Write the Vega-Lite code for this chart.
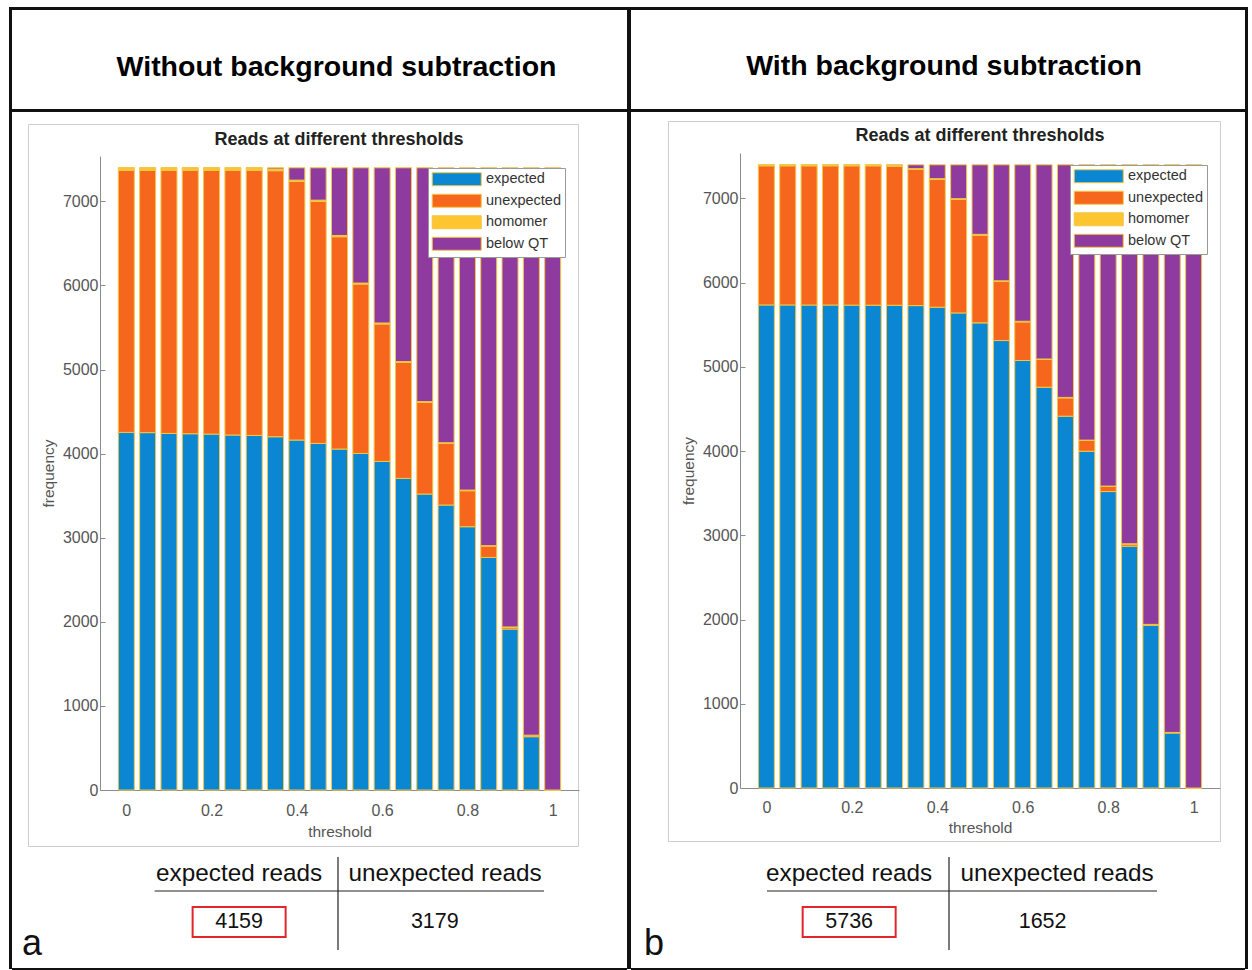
{
  "$schema": "https://vega.github.io/schema/vega-lite/v6.json",
  "background": "white",
  "padding": {"left": 9, "top": 7, "right": 0, "bottom": 0},
  "config": {
    "view": {"stroke": null},
    "font": "Liberation Sans",
    "concat": {"spacing": 0}
  },
  "datasets": {
    "readsA": [
      {"threshold": 0.00, "expected": 4253, "unexpected": 3117, "homomer": 30, "below QT": 0},
      {"threshold": 0.05, "expected": 4250, "unexpected": 3120, "homomer": 30, "below QT": 0},
      {"threshold": 0.10, "expected": 4241, "unexpected": 3129, "homomer": 30, "below QT": 0},
      {"threshold": 0.15, "expected": 4237, "unexpected": 3133, "homomer": 30, "below QT": 0},
      {"threshold": 0.20, "expected": 4233, "unexpected": 3137, "homomer": 30, "below QT": 0},
      {"threshold": 0.25, "expected": 4222, "unexpected": 3148, "homomer": 30, "below QT": 0},
      {"threshold": 0.30, "expected": 4217, "unexpected": 3153, "homomer": 30, "below QT": 0},
      {"threshold": 0.35, "expected": 4201, "unexpected": 3164, "homomer": 20, "below QT": 15},
      {"threshold": 0.40, "expected": 4162, "unexpected": 3076, "homomer": 15, "below QT": 147},
      {"threshold": 0.45, "expected": 4122, "unexpected": 2878, "homomer": 15, "below QT": 385},
      {"threshold": 0.50, "expected": 4055, "unexpected": 2525, "homomer": 15, "below QT": 805},
      {"threshold": 0.55, "expected": 4003, "unexpected": 2014, "homomer": 12, "below QT": 1371},
      {"threshold": 0.60, "expected": 3908, "unexpected": 1634, "homomer": 12, "below QT": 1846},
      {"threshold": 0.65, "expected": 3706, "unexpected": 1379, "homomer": 10, "below QT": 2305},
      {"threshold": 0.70, "expected": 3520, "unexpected": 1089, "homomer": 10, "below QT": 2781},
      {"threshold": 0.75, "expected": 3389, "unexpected": 733, "homomer": 8, "below QT": 3270},
      {"threshold": 0.80, "expected": 3131, "unexpected": 428, "homomer": 8, "below QT": 3833},
      {"threshold": 0.85, "expected": 2766, "unexpected": 135, "homomer": 5, "below QT": 4494},
      {"threshold": 0.90, "expected": 1914, "unexpected": 20, "homomer": 5, "below QT": 5461},
      {"threshold": 0.95, "expected": 634, "unexpected": 15, "homomer": 3, "below QT": 6748},
      {"threshold": 1.00, "expected": 0, "unexpected": 0, "homomer": 0, "below QT": 7400}
    ],
    "readsB": [
      {"threshold": 0.00, "expected": 5736, "unexpected": 1652, "homomer": 12, "below QT": 0},
      {"threshold": 0.05, "expected": 5736, "unexpected": 1652, "homomer": 12, "below QT": 0},
      {"threshold": 0.10, "expected": 5735, "unexpected": 1653, "homomer": 12, "below QT": 0},
      {"threshold": 0.15, "expected": 5735, "unexpected": 1653, "homomer": 12, "below QT": 0},
      {"threshold": 0.20, "expected": 5734, "unexpected": 1654, "homomer": 12, "below QT": 0},
      {"threshold": 0.25, "expected": 5733, "unexpected": 1655, "homomer": 12, "below QT": 0},
      {"threshold": 0.30, "expected": 5732, "unexpected": 1650, "homomer": 12, "below QT": 6},
      {"threshold": 0.35, "expected": 5728, "unexpected": 1616, "homomer": 10, "below QT": 46},
      {"threshold": 0.40, "expected": 5709, "unexpected": 1516, "homomer": 10, "below QT": 165},
      {"threshold": 0.45, "expected": 5641, "unexpected": 1347, "homomer": 10, "below QT": 402},
      {"threshold": 0.50, "expected": 5523, "unexpected": 1041, "homomer": 10, "below QT": 826},
      {"threshold": 0.55, "expected": 5313, "unexpected": 701, "homomer": 8, "below QT": 1378},
      {"threshold": 0.60, "expected": 5076, "unexpected": 458, "homomer": 8, "below QT": 1858},
      {"threshold": 0.65, "expected": 4759, "unexpected": 329, "homomer": 6, "below QT": 2306},
      {"threshold": 0.70, "expected": 4415, "unexpected": 217, "homomer": 6, "below QT": 2762},
      {"threshold": 0.75, "expected": 3999, "unexpected": 127, "homomer": 5, "below QT": 3269},
      {"threshold": 0.80, "expected": 3520, "unexpected": 60, "homomer": 5, "below QT": 3815},
      {"threshold": 0.85, "expected": 2871, "unexpected": 25, "homomer": 4, "below QT": 4500},
      {"threshold": 0.90, "expected": 1932, "unexpected": 8, "homomer": 3, "below QT": 5457},
      {"threshold": 0.95, "expected": 653, "unexpected": 5, "homomer": 2, "below QT": 6740},
      {"threshold": 1.00, "expected": 0, "unexpected": 0, "homomer": 0, "below QT": 7400}
    ]
  },
  "resolve": {"scale": {"color": "independent"}, "legend": {"color": "independent"}},
  "spacing": 0,
  "hconcat": [
    {"width": 3, "height": 962, "view": {"fill": "#111", "stroke": null}, "data": {"values": []}, "mark": "point", "encoding": {}},
    {
      "spacing": 0,
      "resolve": {"scale": {"color": "independent"}, "legend": {"color": "independent"}},
      "vconcat": [
        {"width": 615, "height": 3, "view": {"fill": "#111", "stroke": null}, "data": {"values": []}, "mark": "point", "encoding": {}},
        {
          "width": 615, "height": 99,
          "data": {"values": [{"heading": "Without background subtraction"}]},
          "mark": {"type": "text", "fontSize": 28.5, "fontWeight": "bold", "color": "#000", "baseline": "middle", "dx": 17, "dy": 7},
          "encoding": {"text": {"field": "heading"}}
        },
        {"width": 615, "height": 3, "view": {"fill": "#111", "stroke": null}, "data": {"values": []}, "mark": "point", "encoding": {}},
        {"width": 615, "height": 11, "data": {"values": []}, "mark": "point", "encoding": {}},
        {
          "spacing": 0,
          "resolve": {"scale": {"color": "independent"}, "legend": {"color": "independent"}},
          "hconcat": [
            {"width": 15, "height": 722, "data": {"values": []}, "mark": "point", "encoding": {}},
            {
              "width": 550, "height": 722,
              "view": {"stroke": "#cdcdcd", "strokeWidth": 1, "fill": "white"},
              "data": {"name": "readsA"},
              "transform": [
                {"fold": ["expected", "unexpected", "homomer", "below QT"], "as": ["category", "count"]},
                {"window": [{"op": "row_number", "as": "layer"}], "groupby": ["threshold"]}
              ],
              "title": {"text": "Reads at different thresholds", "fontSize": 18, "fontWeight": "bold", "color": "#222", "anchor": "middle", "frame": "group", "orient": "top", "offset": -39, "dx": 36, "baseline": "alphabetic"},
              "mark": {"type": "bar", "size": 16, "stroke": "#f2c744", "strokeWidth": 1},
              "encoding": {
                "x": {
                  "field": "threshold", "type": "quantitative",
                  "scale": {"domain": [-0.05, 1.05], "range": [72, 551], "nice": false, "zero": false},
                  "axis": {"title": "threshold", "values": [0, 0.2, 0.4, 0.6, 0.8, 1], "format": "~g", "grid": false, "offset": -56, "domainColor": "#8c8c8c", "tickColor": "#8c8c8c", "tickSize": -5, "labelFontSize": 16, "labelColor": "#555", "labelPadding": 17, "titleFontSize": 15.5, "titleFontWeight": "normal", "titleColor": "#555", "titlePadding": 6}
                },
                "y": {
                  "field": "count", "type": "quantitative", "stack": "zero",
                  "scale": {"domain": [0, 7540], "range": [666, 32], "nice": false},
                  "axis": {"title": "frequency", "values": [0, 1000, 2000, 3000, 4000, 5000, 6000, 7000], "format": "d", "grid": false, "offset": -72, "domainColor": "#8c8c8c", "tickColor": "#8c8c8c", "tickSize": -5, "labelFontSize": 16, "labelColor": "#555", "labelPadding": 7, "titleFontSize": 15.5, "titleFontWeight": "normal", "titleColor": "#555", "titlePadding": 6}
                },
                "color": {
                  "field": "category", "type": "nominal",
                  "scale": {"domain": ["expected", "unexpected", "homomer", "below QT"], "range": ["#0a86d3", "#f6661c", "#fdc52f", "#8e3a9f"]},
                  "legend": {"orient": "none", "legendX": 400, "legendY": 44, "title": null, "symbolType": "M-3.77,-1H3.77V1H-3.77Z", "symbolSize": 169, "symbolOffset": 17.5, "labelOffset": 22, "symbolStrokeColor": "#f2c744", "symbolStrokeWidth": 1, "labelFontSize": 14.5, "labelColor": "#333", "strokeColor": "#9a9a9a", "fillColor": "white", "padding": 4, "rowPadding": 3.5}
                },
                "order": {"field": "layer", "type": "quantitative", "sort": "ascending"}
              }
            }
          ]
        },
        {
          "width": 615, "height": 121,
          "data": {"values": [{"column": "expected reads", "reads": 4159}, {"column": "unexpected reads", "reads": 3179}]},
          "title": {"text": "a", "orient": "bottom", "anchor": "start", "frame": "group", "offset": -13, "dx": 10, "fontSize": 36, "fontWeight": "normal", "color": "#111", "baseline": "alphabetic"},
          "encoding": {
            "x": {"field": "column", "type": "nominal", "bandPosition": 0.52, "scale": {"type": "band", "domain": ["expected reads", "unexpected reads"], "range": [120, 532], "paddingInner": 0, "paddingOuter": 0}, "axis": null}
          },
          "layer": [
            {
              "mark": {"type": "text", "fontSize": 24.3, "color": "#111", "baseline": "middle"},
              "encoding": {
                "y": {"datum": "header", "type": "nominal", "bandPosition": 0.712, "scale": {"type": "band", "domain": ["header", "value"], "range": [-15, 103], "paddingInner": 0, "paddingOuter": 0}, "axis": null},
                "text": {"field": "column"}
              }
            },
            {
              "transform": [{"filter": "datum.column === 'expected reads'"}],
              "mark": {"type": "text", "fontSize": 21.5, "color": "#111", "baseline": "middle"},
              "encoding": {
                "y": {"datum": "value", "type": "nominal", "bandPosition": 0.525},
                "text": {"field": "reads", "type": "quantitative", "format": "d"}
              }
            },
            {
              "transform": [{"filter": "datum.column === 'unexpected reads'"}],
              "mark": {"type": "text", "fontSize": 21.5, "color": "#111", "baseline": "middle"},
              "encoding": {
                "x": {"field": "column", "type": "nominal", "bandPosition": 0.47},
                "y": {"datum": "value", "type": "nominal", "bandPosition": 0.525},
                "text": {"field": "reads", "type": "quantitative", "format": "d"}
              }
            },
            {
              "transform": [{"filter": "datum.column === 'expected reads'"}],
              "mark": {"type": "point", "shape": "M-1.55,-0.5H1.55V0.5H-1.55Z", "size": 3600, "filled": false, "stroke": "#e3262b", "strokeWidth": 2, "opacity": 1},
              "encoding": {
                "y": {"datum": "value", "type": "nominal", "bandPosition": 0.525}
              }
            },
            {
              "transform": [{"filter": "datum.column === 'expected reads'"}],
              "mark": {"type": "rule", "color": "#222", "strokeWidth": 1.2},
              "encoding": {
                "x": {"datum": "expected reads", "type": "nominal", "bandPosition": 0.11},
                "x2": {"datum": "unexpected reads", "bandPosition": 1},
                "y": {"datum": "value", "type": "nominal", "bandPosition": 0}
              }
            },
            {
              "transform": [{"filter": "datum.column === 'expected reads'"}],
              "mark": {"type": "rule", "color": "#222", "strokeWidth": 1.2},
              "encoding": {
                "x": {"datum": "unexpected reads", "type": "nominal", "bandPosition": 0},
                "y": {"datum": "header", "type": "nominal", "bandPosition": 0.424},
                "y2": {"datum": "value", "bandPosition": 1}
              }
            }
          ]
        },
        {"width": 615, "height": 3, "view": {"fill": "#111", "stroke": null}, "data": {"values": []}, "mark": "point", "encoding": {}}
      ]
    },
    {"width": 4, "height": 962, "view": {"fill": "#111", "stroke": null}, "data": {"values": []}, "mark": "point", "encoding": {}},
    {
      "spacing": 0,
      "resolve": {"scale": {"color": "independent"}, "legend": {"color": "independent"}},
      "vconcat": [
        {"width": 614, "height": 3, "view": {"fill": "#111", "stroke": null}, "data": {"values": []}, "mark": "point", "encoding": {}},
        {
          "width": 614, "height": 99,
          "data": {"values": [{"heading": "With background subtraction"}]},
          "mark": {"type": "text", "fontSize": 28.5, "fontWeight": "bold", "color": "#000", "baseline": "middle", "dx": 6, "dy": 6},
          "encoding": {"text": {"field": "heading"}}
        },
        {"width": 614, "height": 3, "view": {"fill": "#111", "stroke": null}, "data": {"values": []}, "mark": "point", "encoding": {}},
        {"width": 614, "height": 8, "data": {"values": []}, "mark": "point", "encoding": {}},
        {
          "spacing": 0,
          "resolve": {"scale": {"color": "independent"}, "legend": {"color": "independent"}},
          "hconcat": [
            {"width": 36, "height": 720, "data": {"values": []}, "mark": "point", "encoding": {}},
            {
              "width": 552, "height": 720,
              "view": {"stroke": "#cdcdcd", "strokeWidth": 1, "fill": "white"},
              "data": {"name": "readsB"},
              "transform": [
                {"fold": ["expected", "unexpected", "homomer", "below QT"], "as": ["category", "count"]},
                {"window": [{"op": "row_number", "as": "layer"}], "groupby": ["threshold"]}
              ],
              "title": {"text": "Reads at different thresholds", "fontSize": 18, "fontWeight": "bold", "color": "#222", "anchor": "middle", "frame": "group", "orient": "top", "offset": -38, "dx": 36, "baseline": "alphabetic"},
              "mark": {"type": "bar", "size": 16, "stroke": "#f2c744", "strokeWidth": 1},
              "encoding": {
                "x": {
                  "field": "threshold", "type": "quantitative",
                  "scale": {"domain": [-0.05, 1.05], "range": [72, 552], "nice": false, "zero": false},
                  "axis": {"title": "threshold", "values": [0, 0.2, 0.4, 0.6, 0.8, 1], "format": "~g", "grid": false, "offset": -53, "domainColor": "#8c8c8c", "tickColor": "#8c8c8c", "tickSize": -5, "labelFontSize": 16, "labelColor": "#555", "labelPadding": 16, "titleFontSize": 15.5, "titleFontWeight": "normal", "titleColor": "#555", "titlePadding": 5}
                },
                "y": {
                  "field": "count", "type": "quantitative", "stack": "zero",
                  "scale": {"domain": [0, 7540], "range": [667, 32], "nice": false},
                  "axis": {"title": "frequency", "values": [0, 1000, 2000, 3000, 4000, 5000, 6000, 7000], "format": "d", "grid": false, "offset": -72, "domainColor": "#8c8c8c", "tickColor": "#8c8c8c", "tickSize": -5, "labelFontSize": 16, "labelColor": "#555", "labelPadding": 7, "titleFontSize": 15.5, "titleFontWeight": "normal", "titleColor": "#555", "titlePadding": 6}
                },
                "color": {
                  "field": "category", "type": "nominal",
                  "scale": {"domain": ["expected", "unexpected", "homomer", "below QT"], "range": ["#0a86d3", "#f6661c", "#fdc52f", "#8e3a9f"]},
                  "legend": {"orient": "none", "legendX": 402, "legendY": 44, "title": null, "symbolType": "M-3.77,-1H3.77V1H-3.77Z", "symbolSize": 169, "symbolOffset": 17.5, "labelOffset": 22, "symbolStrokeColor": "#f2c744", "symbolStrokeWidth": 1, "labelFontSize": 14.5, "labelColor": "#333", "strokeColor": "#9a9a9a", "fillColor": "white", "padding": 4, "rowPadding": 3.5}
                },
                "order": {"field": "layer", "type": "quantitative", "sort": "ascending"}
              }
            }
          ]
        },
        {
          "width": 614, "height": 126,
          "data": {"values": [{"column": "expected reads", "reads": 5736}, {"column": "unexpected reads", "reads": 1652}]},
          "title": {"text": "b", "orient": "bottom", "anchor": "start", "frame": "group", "offset": -13, "dx": 13, "fontSize": 36, "fontWeight": "normal", "color": "#111", "baseline": "alphabetic"},
          "encoding": {
            "x": {"field": "column", "type": "nominal", "bandPosition": 0.52, "scale": {"type": "band", "domain": ["expected reads", "unexpected reads"], "range": [110, 526], "paddingInner": 0, "paddingOuter": 0}, "axis": null}
          },
          "layer": [
            {
              "mark": {"type": "text", "fontSize": 24.3, "color": "#111", "baseline": "middle"},
              "encoding": {
                "y": {"datum": "header", "type": "nominal", "bandPosition": 0.712, "scale": {"type": "band", "domain": ["header", "value"], "range": [-10, 108], "paddingInner": 0, "paddingOuter": 0}, "axis": null},
                "text": {"field": "column"}
              }
            },
            {
              "transform": [{"filter": "datum.column === 'expected reads'"}],
              "mark": {"type": "text", "fontSize": 21.5, "color": "#111", "baseline": "middle"},
              "encoding": {
                "y": {"datum": "value", "type": "nominal", "bandPosition": 0.525},
                "text": {"field": "reads", "type": "quantitative", "format": "d"}
              }
            },
            {
              "transform": [{"filter": "datum.column === 'unexpected reads'"}],
              "mark": {"type": "text", "fontSize": 21.5, "color": "#111", "baseline": "middle"},
              "encoding": {
                "x": {"field": "column", "type": "nominal", "bandPosition": 0.45},
                "y": {"datum": "value", "type": "nominal", "bandPosition": 0.525},
                "text": {"field": "reads", "type": "quantitative", "format": "d"}
              }
            },
            {
              "transform": [{"filter": "datum.column === 'expected reads'"}],
              "mark": {"type": "point", "shape": "M-1.55,-0.5H1.55V0.5H-1.55Z", "size": 3600, "filled": false, "stroke": "#e3262b", "strokeWidth": 2, "opacity": 1},
              "encoding": {
                "y": {"datum": "value", "type": "nominal", "bandPosition": 0.525}
              }
            },
            {
              "transform": [{"filter": "datum.column === 'expected reads'"}],
              "mark": {"type": "rule", "color": "#222", "strokeWidth": 1.2},
              "encoding": {
                "x": {"datum": "expected reads", "type": "nominal", "bandPosition": 0.125},
                "x2": {"datum": "unexpected reads", "bandPosition": 1},
                "y": {"datum": "value", "type": "nominal", "bandPosition": 0}
              }
            },
            {
              "transform": [{"filter": "datum.column === 'expected reads'"}],
              "mark": {"type": "rule", "color": "#222", "strokeWidth": 1.2},
              "encoding": {
                "x": {"datum": "unexpected reads", "type": "nominal", "bandPosition": 0},
                "y": {"datum": "header", "type": "nominal", "bandPosition": 0.424},
                "y2": {"datum": "value", "bandPosition": 1}
              }
            }
          ]
        },
        {"width": 614, "height": 3, "view": {"fill": "#111", "stroke": null}, "data": {"values": []}, "mark": "point", "encoding": {}}
      ]
    },
    {"width": 3, "height": 962, "view": {"fill": "#111", "stroke": null}, "data": {"values": []}, "mark": "point", "encoding": {}}
  ]
}
